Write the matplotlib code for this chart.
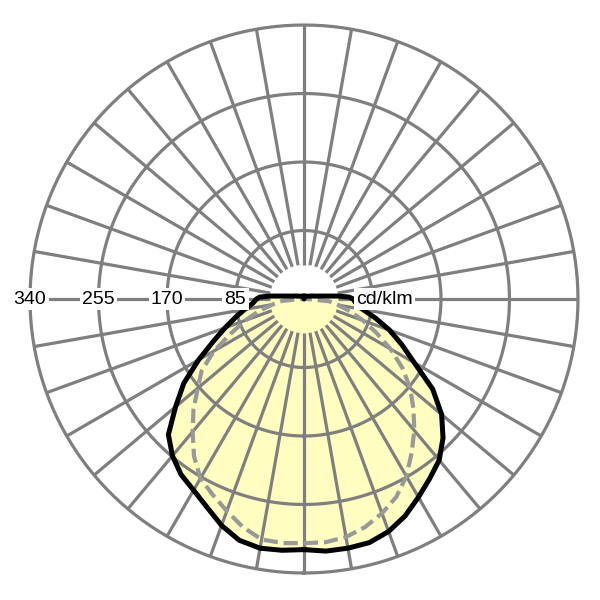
import numpy as np
import matplotlib
matplotlib.use('Agg')
import matplotlib.pyplot as plt

# ==========================================
# DATA (cd/klm, gamma angle from nadir)
# ==========================================
gamma = [0, 5, 10, 15, 20, 25, 30, 35, 40, 45, 50, 55, 60, 65, 70, 75, 80, 85, 90,
         92.5, 95, 100, 105, 110, 120, 135, 150, 165, 175, 180]

# C0 plane (right half) and C180 plane (left half) - solid black
c0 = [311, 314, 314, 313, 307, 297, 284, 272, 261, 244, 223, 195, 158, 134, 113, 92, 74, 65, 61,
      56, 42, 21, 14, 11, 7, 5, 4, 4, 2, 0]
c180 = [311, 313, 314, 310, 299, 285, 274, 266, 254, 238, 208, 182, 151, 124, 104, 88, 75, 64, 59,
        55, 42, 21, 14, 11, 7, 5, 4, 4, 2, 0]

# C90 plane (right half) and C270 plane (left half) - dashed gray
c90 = [303, 303, 300, 293, 283, 271, 254, 233, 213, 192, 172, 149, 124, 99, 78, 60, 43, 31, 4,
       2, 2, 1, 1, 1, 1, 1, 1, 1, 1, 0]
c270 = [303, 304, 303, 293, 280, 268, 257, 238, 215, 194, 172, 155, 129, 99, 77, 58, 40, 27, 4,
        2, 2, 1, 1, 1, 1, 1, 1, 1, 1, 0]

ring_values = [85, 170, 255, 340]
ring_labels = ['85', '170', '255', '340']
unit_label = 'cd/klm'

# ==========================================
# PLOT
# ==========================================
fig = plt.figure(figsize=(6, 6), dpi=100)
ax = fig.add_axes([0.0433, 0.0383, 0.9267, 0.9267], projection='polar')
ax.set_theta_zero_location('S')
ax.set_theta_direction(1)
ax.set_ylim(0, 345)
ax.grid(False)
ax.set_xticks([])
ax.set_yticks([])
ax.spines['polar'].set_visible(False)

g = np.radians(gamma)

# full closed curves: right half going up, left half coming back down
th_solid = np.concatenate([g, 2 * np.pi - g[::-1]])
r_solid = np.concatenate([c0, c180[::-1]])
th_dash = np.concatenate([g, 2 * np.pi - g[::-1]])
r_dash = np.concatenate([c90, c270[::-1]])

ax.fill(th_solid, r_solid, color='#FFFDC0', zorder=1, lw=0)

# grid: rings and radial spokes
grid_col = '#7F7F7F'
circ = np.linspace(0, 2 * np.pi, 361)
for rv in ring_values:
    ax.plot(circ, np.full_like(circ, rv), color=grid_col, lw=2.3, zorder=2)
for a in range(0, 360, 10):
    ax.plot([np.radians(a)] * 2, [42.5, 340], color=grid_col, lw=2.3, zorder=2,
            solid_capstyle='butt')

ax.plot(th_dash, r_dash, color='#999999', lw=3.0, linestyle=(0, (3.4, 1.4)), zorder=3)
ax.plot(th_solid, r_solid, color='black', lw=3.6, zorder=4, solid_joinstyle='round')

# ring labels on the left horizontal
box = dict(facecolor='white', edgecolor='none', pad=1.5)
for rv, lab in zip(ring_values, ring_labels):
    ax.text(np.radians(270), rv, lab, ha='center', va='center', fontsize=14,
            family='Liberation Sans', bbox=box, zorder=5)
ax.text(np.radians(90), 100, unit_label, ha='center', va='center', fontsize=14,
        family='Liberation Sans', bbox=box, zorder=5)

plt.savefig('out.png', dpi=100, facecolor='white')
